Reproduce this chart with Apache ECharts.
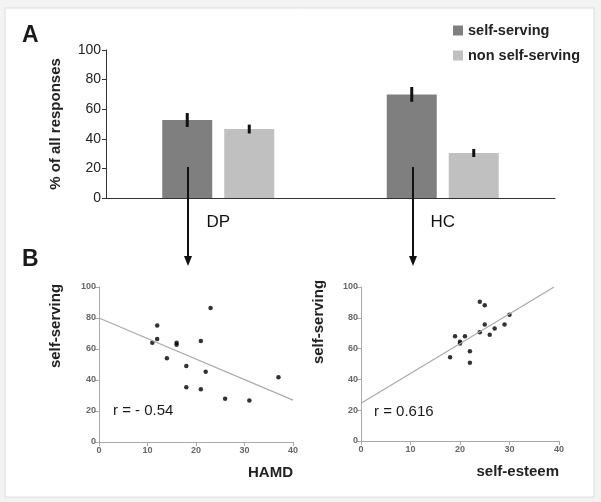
<!DOCTYPE html>
<html>
<head>
<meta charset="utf-8">
<script src="https://cdn.jsdelivr.net/npm/echarts@6/dist/echarts.min.js"></script>
<style>
  html, body { margin: 0; padding: 0; background: #f3f3f3; }
  #chart { width: 601px; height: 502px; }
</style>
</head>
<body>
<div id="chart"></div>
<script>
// panel A: response shares
const groups = ['DP', 'HC']
const selfServing = [52.7, 70.0]
const selfServingErr = [4.7, 5.0]
const nonSelfServing = [46.6, 30.4]
const nonSelfServingErr = [3.0, 2.7]

// panel B left: HAMD vs self-serving
const hamdPoints = [
  [11, 64.1], [12, 75.2], [12, 66.5], [14, 54], [16, 64.1], [16, 62.8],
  [18, 49], [18, 35.4], [21, 65.2], [21, 34.1], [22, 45.4], [23, 86.4],
  [26, 27.9], [31, 26.8], [37, 41.7]
]
const hamdFit = [[0, 80], [40, 27]]

// panel B right: self-esteem vs self-serving
const esteemPoints = [
  [18, 54.4], [19, 68], [20, 64.4], [20, 63.3], [21, 68], [22, 58.3],
  [22, 50.8], [24, 90.5], [25, 88.1], [24, 70.6], [25, 75.6], [27, 73],
  [26, 69], [29, 75.6], [30, 81.9]
]
const esteemFit = [[0, 24.5], [39, 100]]

const scatterTicks = { min: 0, max: 40, interval: 10 }
const barTicks = { min: 0, max: 100, interval: 20 }

const FONT = 'Liberation Sans, Arial, sans-serif'
const DARK = '#7f7f7f'
const LIGHT = '#c0c0c0'
const BAR_OFFSET = 31

const chart = echarts.init(document.getElementById('chart'))

function errSeries(vals, errs, offset) {
  return {
    type: 'custom',
    xAxisIndex: 0, yAxisIndex: 0,
    data: vals.map((v, i) => [i, v, errs[i]]),
    renderItem(params, api) {
      const hi = api.coord([api.value(0), api.value(1) + api.value(2)])
      const lo = api.coord([api.value(0), api.value(1) - api.value(2)])
      return {
        type: 'line',
        shape: { x1: hi[0] + offset, y1: hi[1], x2: lo[0] + offset, y2: lo[1] },
        style: { stroke: '#111', lineWidth: 3 }
      }
    },
    z: 5
  }
}

function scatterX(idx, name) {
  return {
    gridIndex: idx, type: 'value', ...scatterTicks,
    name: name, nameLocation: 'end', nameGap: 0,
    nameTextStyle: { fontFamily: FONT, fontWeight: 'bold', fontSize: 15, color: '#222',
      align: 'right', verticalAlign: 'top', padding: [23, 0, 0, 0] },
    axisLine: { lineStyle: { color: '#aaa' } },
    axisTick: { show: true, length: 4, lineStyle: { color: '#aaa' } },
    axisLabel: { fontFamily: FONT, fontSize: 9, fontWeight: 'bold', color: '#666', margin: 4 },
    splitLine: { show: false }
  }
}

function scatterY(idx) {
  return {
    gridIndex: idx, type: 'value', ...barTicks,
    axisLine: { show: true, lineStyle: { color: '#aaa' } },
    axisTick: { show: true, length: 4, lineStyle: { color: '#aaa' } },
    axisLabel: { fontFamily: FONT, fontSize: 9, fontWeight: 'bold', color: '#666', margin: 3 },
    splitLine: { show: false }
  }
}

function arrow(x, y1, y2) {
  return [
    { type: 'line', shape: { x1: x, y1: y1, x2: x, y2: y2 - 6 }, style: { stroke: '#111', lineWidth: 2 }, z: 20 },
    { type: 'polygon', shape: { points: [[x - 4, y2 - 10], [x + 4, y2 - 10], [x, y2]] }, style: { fill: '#111' }, z: 20 }
  ]
}

function label(text, x, y, size, weight) {
  return {
    type: 'text', x: x, y: y, z: 20,
    style: { text: text, fontFamily: FONT, fontSize: size, fontWeight: weight, fill: '#1a1a1a' }
  }
}

function vLabel(text, x, y) {
  return {
    type: 'text', x: x, y: y, z: 20, rotation: Math.PI / 2,
    style: { text: text, fontFamily: FONT, fontSize: 15, fontWeight: 'bold', fill: '#222',
      align: 'center', verticalAlign: 'middle' }
  }
}

chart.setOption({
  backgroundColor: '#f3f3f3',
  animation: false,
  legend: {
    orient: 'vertical', left: 453, top: 23, padding: 0,
    itemWidth: 10, itemHeight: 10, itemGap: 10,
    icon: 'rect',
    textStyle: { fontFamily: FONT, fontSize: 14.5, fontWeight: 'bold', color: '#222' },
    data: ['self-serving', 'non self-serving']
  },
  grid: [
    { left: 106, top: 50, width: 449, height: 148 },
    { left: 99, top: 287, width: 194, height: 155 },
    { left: 361, top: 287, width: 198, height: 154 }
  ],
  xAxis: [
    {
      gridIndex: 0, type: 'category', data: groups,
      axisLine: { lineStyle: { color: '#333' } },
      axisTick: { show: false },
      axisLabel: { fontFamily: FONT, fontSize: 17, color: '#111', margin: 16 }
    },
    scatterX(1, 'HAMD'),
    scatterX(2, 'self-esteem')
  ],
  yAxis: [
    {
      gridIndex: 0, type: 'value', ...barTicks,
      name: '% of all responses', nameLocation: 'middle', nameGap: 43,
      nameTextStyle: { fontFamily: FONT, fontSize: 15, fontWeight: 'bold', color: '#222' },
      axisLine: { show: true, lineStyle: { color: '#333' } },
      axisTick: { show: true, length: 4, lineStyle: { color: '#333' } },
      axisLabel: { fontFamily: FONT, fontSize: 14, color: '#222', margin: 5 },
      splitLine: { show: false }
    },
    scatterY(1),
    scatterY(2)
  ],
  series: [
    { name: 'self-serving', type: 'bar', data: selfServing, barWidth: 50, barGap: '24%',
      itemStyle: { color: DARK } },
    { name: 'non self-serving', type: 'bar', data: nonSelfServing, barWidth: 50,
      itemStyle: { color: LIGHT } },
    errSeries(selfServing, selfServingErr, -BAR_OFFSET),
    errSeries(nonSelfServing, nonSelfServingErr, BAR_OFFSET),
    { type: 'line', xAxisIndex: 1, yAxisIndex: 1, data: hamdFit, symbol: 'none',
      lineStyle: { color: '#aaa', width: 1.2 } },
    { type: 'scatter', xAxisIndex: 1, yAxisIndex: 1, data: hamdPoints, symbolSize: 4.5,
      itemStyle: { color: '#000' } },
    { type: 'line', xAxisIndex: 2, yAxisIndex: 2, data: esteemFit, symbol: 'none',
      lineStyle: { color: '#aaa', width: 1.2 } },
    { type: 'scatter', xAxisIndex: 2, yAxisIndex: 2, data: esteemPoints, symbolSize: 4.5,
      itemStyle: { color: '#000' } }
  ],
  graphic: [
    { type: 'rect', shape: { x: 5, y: 8, width: 589, height: 489 },
      style: { fill: '#fff', stroke: '#dcdcdc', lineWidth: 1 }, z: -10, silent: true },
    label('A', 22, 24, 23, 'bold'),
    label('B', 22, 248, 23, 'bold'),
    ...arrow(188, 167, 266),
    ...arrow(413, 167, 266),
    label('r = - 0.54', 113, 403, 15, 'normal'),
    label('r = 0.616', 374, 404, 15, 'normal'),
    vLabel('self-serving', 56, 326),
    vLabel('self-serving', 319, 322)
  ]
})
</script>
</body>
</html>
